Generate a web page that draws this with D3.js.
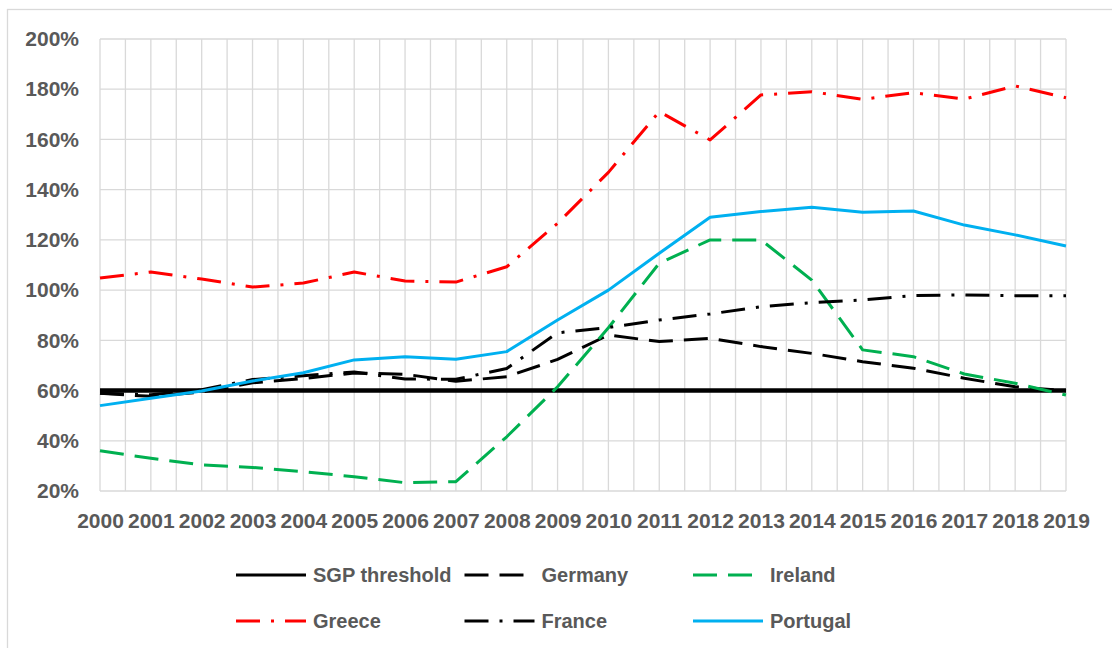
<!DOCTYPE html>
<html>
<head>
<meta charset="utf-8">
<script src="https://cdn.jsdelivr.net/npm/d3@7"></script>
<style>
  html, body { margin: 0; padding: 0; background: #fff; }
  svg { display: block; font-family: "Liberation Sans", Arial, sans-serif; }
</style>
</head>
<body>
<script>
// Government debt, % of GDP
const years = ["2000", "2001", "2002", "2003", "2004", "2005", "2006", "2007", "2008", "2009",
  "2010", "2011", "2012", "2013", "2014", "2015", "2016", "2017", "2018", "2019"];

const sgp = [60, 60, 60, 60, 60, 60, 60, 60, 60, 60, 60, 60, 60, 60, 60, 60, 60, 60, 60, 60];
const germany = [58.9, 57.7, 59.4, 63.1, 64.8, 67.0, 66.5, 63.7, 65.5, 72.4,
  82.1, 79.5, 80.8, 77.5, 74.8, 71.5, 68.9, 64.9, 61.5, 59.9];
const ireland = [36.0, 33.0, 30.4, 29.4, 27.7, 25.7, 23.3, 23.7, 41.6, 61.5,
  85.0, 110.7, 120.0, 120.0, 104.0, 76.2, 73.5, 66.6, 62.9, 58.2];
const greece = [104.8, 107.2, 104.4, 101.2, 102.8, 107.2, 103.6, 103.2, 109.3, 126.6,
  146.9, 171.1, 159.8, 177.7, 179.0, 176.0, 178.6, 176.1, 181.3, 176.6];
const france = [58.9, 58.3, 60.3, 64.4, 65.9, 67.4, 64.6, 64.5, 68.8, 83.0,
  85.1, 88.1, 90.5, 93.4, 95.0, 96.1, 97.8, 98.1, 97.8, 97.8];
const portugal = [54.0, 56.9, 59.8, 63.8, 67.1, 72.2, 73.5, 72.5, 75.5, 88.1,
  100.0, 114.7, 129.0, 131.3, 133.0, 131.0, 131.5, 125.9, 122.0, 117.6];

const yTicks = [20, 40, 60, 80, 100, 120, 140, 160, 180, 200];

// series in legend / draw order
const series = [
  { name: "SGP threshold", values: sgp, color: "#000000", dash: null, width: 4.5 },
  { name: "Germany", values: germany, color: "#000000", dash: "24,11", width: 3 },
  { name: "Ireland", values: ireland, color: "#00b050", dash: "24,11", width: 3 },
  { name: "Greece", values: greece, color: "#ff0000", dash: "24,11,3,11", width: 3 },
  { name: "France", values: france, color: "#000000", dash: "24,11,3,11", width: 3 },
  { name: "Portugal", values: portugal, color: "#00b0f0", dash: null, width: 3 }
];

const width = 1112;
const height = 648;
const plot = { left: 100, right: 1066, top: 39, bottom: 491 };

const svg = d3.select("body").append("svg")
  .attr("width", width)
  .attr("height", height);

// chart area border
svg.append("rect")
  .attr("x", 7.5).attr("y", 9.5)
  .attr("width", width + 20).attr("height", height + 20)
  .attr("fill", "#fff")
  .attr("stroke", "#d9d9d9")
  .attr("stroke-width", 1.3);

const x = d3.scalePoint(years, [plot.left, plot.right]);
const y = d3.scaleLinear([20, 200], [plot.bottom, plot.top]);

// gridlines: horizontal at each tick, vertical every half year
const step = x.step();
const vLines = d3.range(0, years.length * 2 - 1).map(i => plot.left + i * step / 2);

const grid = svg.append("g")
  .attr("stroke", "#d9d9d9")
  .attr("stroke-width", 1.3);

grid.selectAll(".v")
  .data(vLines)
  .join("line")
  .attr("class", "v")
  .attr("x1", d => d).attr("x2", d => d)
  .attr("y1", plot.top).attr("y2", plot.bottom);

grid.selectAll(".h")
  .data(yTicks)
  .join("line")
  .attr("class", "h")
  .attr("x1", plot.left).attr("x2", plot.right)
  .attr("y1", d => y(d)).attr("y2", d => y(d));

// axes (labels only)
const yAxis = svg.append("g")
  .attr("transform", `translate(${plot.left},0)`)
  .call(d3.axisLeft(y).tickValues(yTicks).tickFormat(d => d + "%").tickSize(0).tickPadding(21));

const xAxis = svg.append("g")
  .attr("transform", `translate(0,${plot.bottom})`)
  .call(d3.axisBottom(x).tickSize(0).tickPadding(22));

[yAxis, xAxis].forEach(g => {
  g.select(".domain").remove();
  g.selectAll("text")
    .attr("fill", "#595959")
    .attr("font-family", "'Liberation Sans', Arial, sans-serif")
    .attr("font-weight", "bold")
    .attr("font-size", 21);
});

// lines
const line = d3.line()
  .x((d, i) => x(years[i]))
  .y(d => y(d));

svg.append("g")
  .attr("fill", "none")
  .selectAll("path")
  .data(series)
  .join("path")
  .attr("d", d => line(d.values))
  .attr("stroke", d => d.color)
  .attr("stroke-width", d => d.width)
  .attr("stroke-dasharray", d => d.dash)
  .attr("stroke-linejoin", "round");

// legend, 3 columns x 2 rows
const legend = svg.append("g")
  .selectAll("g")
  .data(series)
  .join("g")
  .attr("transform", (d, i) => `translate(${236 + (i % 3) * 228.5},${575 + Math.floor(i / 3) * 46})`);

legend.append("line")
  .attr("x1", 0).attr("x2", 70)
  .attr("y1", 0).attr("y2", 0)
  .attr("stroke", d => d.color)
  .attr("stroke-width", 3)
  .attr("stroke-dasharray", d => d.dash);

legend.append("text")
  .attr("x", 77)
  .attr("dy", "0.36em")
  .attr("fill", "#595959")
  .attr("font-weight", "bold")
  .attr("font-size", 20)
  .text(d => d.name);
</script>
</body>
</html>
